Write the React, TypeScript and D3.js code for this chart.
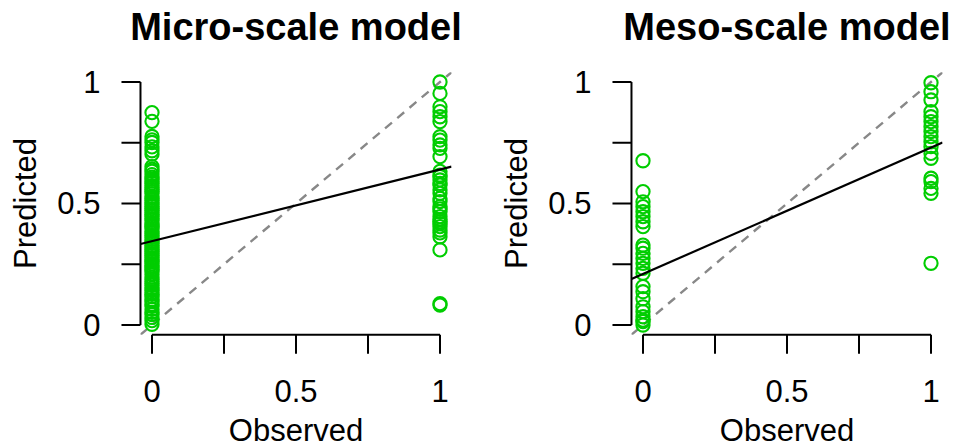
import React from "react";
import * as d3 from "d3";

// predicted probabilities, split by observed class (0 / 1)
const microObs0 = [0.874, 0.838, 0.776, 0.762, 0.751, 0.733, 0.717, 0.703, 0.652, 0.641, 0.633, 0.619, 0.608, 0.601, 0.592, 0.584, 0.573, 0.566, 0.558, 0.549, 0.541, 0.529, 0.522, 0.514, 0.503, 0.497, 0.488, 0.479, 0.471, 0.462, 0.455, 0.446, 0.437, 0.431, 0.419, 0.412, 0.404, 0.396, 0.385, 0.378, 0.369, 0.361, 0.352, 0.344, 0.337, 0.326, 0.318, 0.311, 0.302, 0.294, 0.286, 0.277, 0.268, 0.261, 0.252, 0.243, 0.236, 0.227, 0.219, 0.208, 0.196, 0.188, 0.179, 0.171, 0.163, 0.152, 0.144, 0.133, 0.126, 0.117, 0.104, 0.096, 0.085, 0.078, 0.064, 0.052, 0.043, 0.031, 0.018, 0.003];
const microObs1 = [1.0, 0.953, 0.898, 0.878, 0.857, 0.837, 0.775, 0.761, 0.741, 0.727, 0.693, 0.632, 0.617, 0.611, 0.597, 0.583, 0.576, 0.556, 0.542, 0.521, 0.508, 0.487, 0.478, 0.466, 0.446, 0.435, 0.425, 0.417, 0.405, 0.391, 0.379, 0.363, 0.309, 0.088, 0.082];
const mesoObs0 = [0.676, 0.549, 0.507, 0.487, 0.466, 0.446, 0.425, 0.405, 0.329, 0.316, 0.295, 0.274, 0.254, 0.233, 0.213, 0.158, 0.137, 0.108, 0.075, 0.055, 0.034, 0.02, 0.014, 0.0];
const mesoObs1 = [0.997, 0.96, 0.926, 0.878, 0.857, 0.837, 0.816, 0.796, 0.775, 0.754, 0.734, 0.706, 0.686, 0.604, 0.59, 0.562, 0.542, 0.254];

// fitted lm(pred ~ obs): [intercept, slope]
const microFit = [0.345, 0.295];
const mesoFit = [0.21, 0.52];

const titles = ["Micro-scale model", "Meso-scale model"];
const tickValues = [0, 0.25, 0.5, 0.75, 1];
const tickLabels = ["0", "", "0.5", "", "1"];

const W = 954;
const H = 448;
const green = "#00cd00";
const font = "Liberation Sans, Arial, sans-serif";

type PanelProps = {
  id: string;
  left: number; // x pixel of obs = 0
  title: string;
  obs0: number[];
  obs1: number[];
  fit: number[];
};

const Panel = ({ id, left, title, obs0, obs1, fit }: PanelProps) => {
  const x = d3.scaleLinear().domain([0, 1]).range([left, left + 288]);
  const y = d3.scaleLinear().domain([0, 1]).range([325, 82]);
  // R pads the plot region by 4% on each side
  const x0 = x(-0.04), x1 = x(1.04);
  const y0 = y(-0.04), y1 = y(1.04);
  const axisX = x0;
  const axisY = y0;

  const points = [
    ...obs0.map(v => [0, v]),
    ...obs1.map(v => [1, v]),
  ];

  const line = d3.line<number>().x(d => x(d)).y(d => y(fit[0] + fit[1] * d));
  const diag = d3.line<number>().x(d => x(d)).y(d => y(d));

  return (
    <g>
      <defs>
        <clipPath id={id}>
          <rect x={x0} y={y1} width={x1 - x0} height={y0 - y1} />
        </clipPath>
      </defs>
      <text x={(x(0) + x(1)) / 2} y={40} textAnchor="middle" fontSize={38} fontWeight="bold" fontFamily={font}>{title}</text>

      {/* y axis */}
      <line x1={axisX} x2={axisX} y1={y(0)} y2={y(1)} stroke="black" strokeWidth={2} />
      {tickValues.map((t, i) => (
        <g key={"y" + i}>
          <line x1={axisX - 19} x2={axisX} y1={y(t)} y2={y(t)} stroke="black" strokeWidth={2} />
          <text x={axisX - 40} y={y(t)} dy="0.35em" textAnchor="end" fontSize={31} fontFamily={font}>{tickLabels[i]}</text>
        </g>
      ))}
      <text transform={`translate(${axisX - 115},${(y(0) + y(1)) / 2}) rotate(-90)`} dy="0.35em" textAnchor="middle" fontSize={31} fontFamily={font}>Predicted</text>

      {/* x axis */}
      <line x1={x(0)} x2={x(1)} y1={axisY} y2={axisY} stroke="black" strokeWidth={2} />
      {tickValues.map((t, i) => (
        <g key={"x" + i}>
          <line x1={x(t)} x2={x(t)} y1={axisY} y2={axisY + 19} stroke="black" strokeWidth={2} />
          <text x={x(t)} y={402} textAnchor="middle" fontSize={31} fontFamily={font}>{tickLabels[i]}</text>
        </g>
      ))}
      <text x={(x(0) + x(1)) / 2} y={441} textAnchor="middle" fontSize={31} fontFamily={font}>Observed</text>

      <g clipPath={`url(#${id})`}>
        <path d={diag([-0.04, 1.04]) || ""} stroke="#888888" strokeWidth={2.4} strokeDasharray="9,7" fill="none" />
      </g>
      {points.map((p, i) => (
        <circle key={i} cx={x(p[0])} cy={y(p[1])} r={6.6} fill="none" stroke={green} strokeWidth={2.1} />
      ))}
      <g clipPath={`url(#${id})`}>
        <path d={line([-0.04, 1.04]) || ""} stroke="black" strokeWidth={2.2} fill="none" />
      </g>
    </g>
  );
};

export default function App() {
  return (
    <svg width={W} height={H} style={{ position: "absolute", left: 0, top: 0, background: "white" }}>
      <rect width={W} height={H} fill="white" />
      <Panel id="clipMicro" left={152} title={titles[0]} obs0={microObs0} obs1={microObs1} fit={microFit} />
      <Panel id="clipMeso" left={643} title={titles[1]} obs0={mesoObs0} obs1={mesoObs1} fit={mesoFit} />
    </svg>
  );
}
